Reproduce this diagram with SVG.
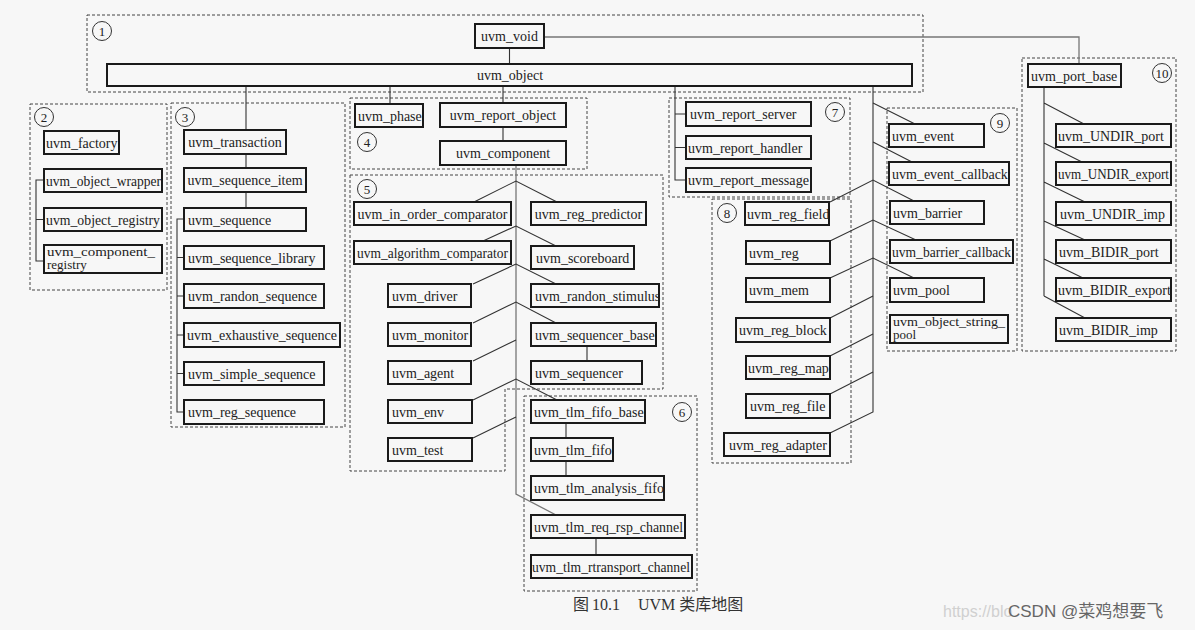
<svg xmlns="http://www.w3.org/2000/svg" width="1195" height="630" viewBox="0 0 1195 630">
<style>
.b{fill:#f7f7f7;stroke:#1a1a1a;stroke-width:2}
.t{font-family:"Liberation Serif","Times New Roman",serif;font-size:14px;fill:#222}
.t2{font-family:"Liberation Serif","Times New Roman",serif;font-size:13px;fill:#222}
.m{text-anchor:middle}
.d{fill:none;stroke:#444;stroke-width:1;stroke-dasharray:3 2}
.c{fill:none;stroke:#333;stroke-width:1.1}
.g{fill:none;stroke:#777;stroke-width:1.3}
.n{fill:none;stroke:#333;stroke-width:1}
.nt{font-family:"Liberation Serif",serif;font-size:13px;fill:#222;text-anchor:middle}
</style>
<rect width="1195" height="630" fill="#f7f7f7"/>
<g id="regions">
<rect class="d" x="87" y="15" width="836" height="77"/>
<rect class="d" x="30" y="104" width="137" height="186"/>
<rect class="d" x="171" y="103" width="174" height="324"/>
<rect class="d" x="350" y="98" width="237" height="71"/>
<polygon class="d" points="350,175 663,175 663,389 505,389 505,471 350,471"/>
<rect class="d" x="524" y="396" width="173" height="195"/>
<rect class="d" x="669" y="98" width="181" height="99"/>
<rect class="d" x="712" y="199" width="139" height="264"/>
<rect class="d" x="887" y="108" width="130" height="243"/>
<rect class="d" x="1022" y="58" width="154" height="293"/>
</g>
<g id="region-labels">
<circle class="n" cx="102" cy="31" r="9.5"/><text class="nt" x="102" y="35.5">1</text>
<circle class="n" cx="44" cy="117" r="9.5"/><text class="nt" x="44" y="121.5">2</text>
<circle class="n" cx="185" cy="117" r="9.5"/><text class="nt" x="185" y="121.5">3</text>
<circle class="n" cx="367" cy="142" r="9.5"/><text class="nt" x="367" y="146.5">4</text>
<circle class="n" cx="367" cy="189" r="9.5"/><text class="nt" x="367" y="193.5">5</text>
<circle class="n" cx="682" cy="412" r="9.5"/><text class="nt" x="682" y="416.5">6</text>
<circle class="n" cx="835" cy="112" r="9.5"/><text class="nt" x="835" y="116.5">7</text>
<circle class="n" cx="727" cy="213" r="9.5"/><text class="nt" x="727" y="217.5">8</text>
<circle class="n" cx="1000" cy="123" r="9.5"/><text class="nt" x="1000" y="127.5">9</text>
<circle class="n" cx="1162" cy="73" r="9.5"/><text class="nt" x="1162" y="77.5">10</text>
</g>
<g id="connectors">
<path class="c" d="M509.5,48V64"/>
<path class="g" d="M544,37H1079V64"/>
<path class="c" d="M246,86V130M246,154V168M246,192V208"/>
<path class="c" d="M184,219H177V412H184M177,257.5H184M177,296H184M177,335H184M177,373.5H184"/>
<path class="c" d="M44,180H36V261H44M36,219.5H44"/>
<path class="c" d="M390,86V104M503,86V103M503,127V141"/>
<path class="g" d="M516,165V494L556,515"/>
<path class="c" d="M474,202L516,181L557,202M483,241L516,226L556,246M473,284L516,264L556,284M473,323L516,302L556,323M473,361L516,340M473,400L516,379L557,400M473,438L516,417"/>
<path class="c" d="M587,346V361M566,423V438M566,461V476M596,538V555"/>
<path class="c" d="M675,86V180H686M675,114H686M675,147.5H686"/>
<path class="c" d="M873,86V412L830,433"/>
<path class="c" d="M873,103L915,124M873,142L912,162M830,202L873,180L914,201M830,241L873,220L916,240M830,278L873,258L914,278M830,318L873,296M830,356L873,334M830,394L873,372"/>
<path class="c" d="M1044,87V296M1044,103L1084,124M1044,143L1082,162M1044,182L1085,202M1044,221L1085,240M1044,259L1083,278M1044,296L1085,318"/>
</g>
<g id="uvm_void"><rect class="b" x="475" y="24" width="69" height="24"/><text class="t m" x="509.5" y="41">uvm_void</text></g>
<g id="uvm_object"><rect class="b" x="107" y="64" width="805" height="22"/><text class="t m" x="510" y="80">uvm_object</text></g>
<g id="uvm_port_base"><rect class="b" x="1028" y="64" width="93" height="23"/><text class="t" x="1031" y="80.5">uvm_port_base</text></g>
<g id="uvm_UNDIR_port"><rect class="b" x="1056" y="124" width="115" height="23"/><text class="t" x="1058" y="140.5">uvm_UNDIR_port</text></g>
<g id="uvm_UNDIR_export"><rect class="b" x="1056" y="162" width="115" height="23"/><text class="t" x="1058" y="178.5" textLength="111" lengthAdjust="spacingAndGlyphs">uvm_UNDIR_export</text></g>
<g id="uvm_UNDIR_imp"><rect class="b" x="1056" y="202" width="115" height="23"/><text class="t" x="1060" y="218.5">uvm_UNDIR_imp</text></g>
<g id="uvm_BIDIR_port"><rect class="b" x="1056" y="240" width="115" height="23"/><text class="t" x="1059" y="256.5">uvm_BIDIR_port</text></g>
<g id="uvm_BIDIR_export"><rect class="b" x="1056" y="278" width="115" height="23"/><text class="t" x="1058" y="294.5">uvm_BIDIR_export</text></g>
<g id="uvm_BIDIR_imp"><rect class="b" x="1056" y="318" width="115" height="23"/><text class="t" x="1059" y="334.5">uvm_BIDIR_imp</text></g>
<g id="uvm_factory"><rect class="b" x="44" y="131" width="75" height="23"/><text class="t" x="46" y="147.5">uvm_factory</text></g>
<g id="uvm_object_wrapper"><rect class="b" x="44" y="169" width="118" height="23"/><text class="t" x="46" y="185.5" textLength="115" lengthAdjust="spacingAndGlyphs">uvm_object_wrapper</text></g>
<g id="uvm_object_registry"><rect class="b" x="44" y="208" width="118" height="23"/><text class="t" x="46" y="224.5" textLength="114" lengthAdjust="spacingAndGlyphs">uvm_object_registry</text></g>
<g id="uvm_component_registry"><rect class="b" x="44" y="245" width="118" height="28"/><text class="t2" x="47" y="255.5" textLength="108" lengthAdjust="spacingAndGlyphs">uvm_component_</text><text class="t2" x="47" y="268.5">registry</text></g>
<g id="uvm_transaction"><rect class="b" x="184" y="130" width="102" height="24"/><text class="t m" x="235" y="146.5">uvm_transaction</text></g>
<g id="uvm_sequence_item"><rect class="b" x="184" y="168" width="122" height="24"/><text class="t m" x="245" y="184.5">uvm_sequence_item</text></g>
<g id="uvm_sequence"><rect class="b" x="184" y="208" width="122" height="23"/><text class="t" x="188" y="224.5">uvm_sequence</text></g>
<g id="uvm_sequence_library"><rect class="b" x="184" y="246" width="140" height="23"/><text class="t" x="188" y="262.5">uvm_sequence_library</text></g>
<g id="uvm_randon_sequence"><rect class="b" x="184" y="284" width="140" height="24"/><text class="t" x="188" y="300.5">uvm_randon_sequence</text></g>
<g id="uvm_exhaustive_sequence"><rect class="b" x="184" y="323" width="156" height="24"/><text class="t" x="187" y="339.5" textLength="150" lengthAdjust="spacingAndGlyphs">uvm_exhaustive_sequence</text></g>
<g id="uvm_simple_sequence"><rect class="b" x="184" y="362" width="140" height="23"/><text class="t" x="188" y="378.5">uvm_simple_sequence</text></g>
<g id="uvm_reg_sequence"><rect class="b" x="184" y="400" width="140" height="24"/><text class="t" x="188" y="416.5">uvm_reg_sequence</text></g>
<g id="uvm_phase"><rect class="b" x="355" y="104" width="68" height="23"/><text class="t" x="358" y="120.5">uvm_phase</text></g>
<g id="uvm_report_object"><rect class="b" x="440" y="103" width="126" height="24"/><text class="t m" x="503" y="119.5">uvm_report_object</text></g>
<g id="uvm_component"><rect class="b" x="440" y="141" width="126" height="24"/><text class="t m" x="503" y="157.5">uvm_component</text></g>
<g id="uvm_in_order_comparator"><rect class="b" x="354" y="202" width="157" height="23"/><text class="t m" x="432.5" y="218.5">uvm_in_order_comparator</text></g>
<g id="uvm_reg_predictor"><rect class="b" x="531" y="202" width="115" height="23"/><text class="t m" x="588.5" y="218.5">uvm_reg_predictor</text></g>
<g id="uvm_algorithm_comparator"><rect class="b" x="354" y="241" width="157" height="23"/><text class="t m" x="432.5" y="257.5" textLength="151" lengthAdjust="spacingAndGlyphs">uvm_algorithm_comparator</text></g>
<g id="uvm_scoreboard"><rect class="b" x="531" y="246" width="103" height="23"/><text class="t" x="536" y="262.5">uvm_scoreboard</text></g>
<g id="uvm_driver"><rect class="b" x="388" y="284" width="83" height="23"/><text class="t" x="392" y="300.5">uvm_driver</text></g>
<g id="uvm_randon_stimulus"><rect class="b" x="531" y="284" width="128" height="23"/><text class="t" x="535" y="300.5">uvm_randon_stimulus</text></g>
<g id="uvm_monitor"><rect class="b" x="388" y="323" width="83" height="23"/><text class="t" x="392" y="339.5">uvm_monitor</text></g>
<g id="uvm_sequencer_base"><rect class="b" x="531" y="323" width="125" height="23"/><text class="t" x="535" y="339.5">uvm_sequencer_base</text></g>
<g id="uvm_agent"><rect class="b" x="388" y="361" width="83" height="23"/><text class="t" x="392" y="377.5">uvm_agent</text></g>
<g id="uvm_sequencer"><rect class="b" x="531" y="361" width="111" height="23"/><text class="t" x="535" y="377.5">uvm_sequencer</text></g>
<g id="uvm_env"><rect class="b" x="388" y="400" width="84" height="23"/><text class="t" x="392" y="416.5">uvm_env</text></g>
<g id="uvm_test"><rect class="b" x="388" y="438" width="84" height="23"/><text class="t" x="392" y="454.5">uvm_test</text></g>
<g id="uvm_tlm_fifo_base"><rect class="b" x="531" y="400" width="114" height="23"/><text class="t" x="534" y="416.5">uvm_tlm_fifo_base</text></g>
<g id="uvm_tlm_fifo"><rect class="b" x="531" y="438" width="82" height="23"/><text class="t" x="534" y="454.5">uvm_tlm_fifo</text></g>
<g id="uvm_tlm_analysis_fifo"><rect class="b" x="531" y="476" width="133" height="24"/><text class="t" x="534" y="492.5">uvm_tlm_analysis_fifo</text></g>
<g id="uvm_tlm_req_rsp_channel"><rect class="b" x="531" y="515" width="154" height="23"/><text class="t" x="534" y="531.5" textLength="149" lengthAdjust="spacingAndGlyphs">uvm_tlm_req_rsp_channel</text></g>
<g id="uvm_tlm_rtransport_channel"><rect class="b" x="531" y="555" width="161" height="23"/><text class="t" x="532" y="571.5" textLength="158" lengthAdjust="spacingAndGlyphs">uvm_tlm_rtransport_channel</text></g>
<g id="uvm_report_server"><rect class="b" x="686" y="102" width="125" height="24"/><text class="t" x="690" y="118.5">uvm_report_server</text></g>
<g id="uvm_report_handler"><rect class="b" x="686" y="136" width="125" height="23"/><text class="t" x="688" y="152.5">uvm_report_handler</text></g>
<g id="uvm_report_message"><rect class="b" x="686" y="168" width="125" height="24"/><text class="t" x="688" y="184.5" textLength="121" lengthAdjust="spacingAndGlyphs">uvm_report_message</text></g>
<g id="uvm_reg_field"><rect class="b" x="745" y="202" width="84" height="23"/><text class="t" x="747" y="218.5">uvm_reg_field</text></g>
<g id="uvm_reg"><rect class="b" x="746" y="241" width="84" height="23"/><text class="t" x="749" y="257.5">uvm_reg</text></g>
<g id="uvm_mem"><rect class="b" x="746" y="278" width="84" height="24"/><text class="t" x="749" y="294.5">uvm_mem</text></g>
<g id="uvm_reg_block"><rect class="b" x="736" y="318" width="94" height="24"/><text class="t" x="739" y="334.5">uvm_reg_block</text></g>
<g id="uvm_reg_map"><rect class="b" x="746" y="356" width="84" height="23"/><text class="t" x="748" y="372.5">uvm_reg_map</text></g>
<g id="uvm_reg_file"><rect class="b" x="746" y="394" width="84" height="24"/><text class="t" x="750" y="410.5">uvm_reg_file</text></g>
<g id="uvm_reg_adapter"><rect class="b" x="724" y="433" width="106" height="23"/><text class="t" x="729" y="449.5">uvm_reg_adapter</text></g>
<g id="uvm_event"><rect class="b" x="889" y="124" width="95" height="23"/><text class="t" x="892" y="140.5">uvm_event</text></g>
<g id="uvm_event_callback"><rect class="b" x="889" y="162" width="120" height="23"/><text class="t" x="892" y="178.5">uvm_event_callback</text></g>
<g id="uvm_barrier"><rect class="b" x="890" y="201" width="94" height="23"/><text class="t" x="893" y="217.5">uvm_barrier</text></g>
<g id="uvm_barrier_callback"><rect class="b" x="890" y="240" width="123" height="23"/><text class="t" x="892" y="256.5" textLength="119" lengthAdjust="spacingAndGlyphs">uvm_barrier_callback</text></g>
<g id="uvm_pool"><rect class="b" x="890" y="278" width="94" height="24"/><text class="t" x="893" y="294.5">uvm_pool</text></g>
<g id="uvm_object_string_pool"><rect class="b" x="890" y="315" width="118" height="28"/><text class="t2" x="893" y="326" textLength="112" lengthAdjust="spacingAndGlyphs">uvm_object_string_</text><text class="t2" x="893" y="339">pool</text></g>
<g id="caption">
<text x="573" y="610" style="font-family:'Liberation Serif','Noto Sans CJK SC',serif;font-size:16px;fill:#333">图</text>
<text x="592" y="610" style="font-family:'Liberation Serif',serif;font-size:16px;fill:#333">10.1</text>
<text x="638" y="610" style="font-family:'Liberation Serif','Noto Sans CJK SC',serif;font-size:16px;fill:#333">UVM 类库地图</text>
</g>
<g id="watermark">
<text x="943" y="617" style="font-family:'Liberation Sans',sans-serif;font-size:16px;fill:#d0d0d0">https://blo</text>
<text x="1008" y="617" style="font-family:'Liberation Sans','Noto Sans CJK SC',sans-serif;font-size:17px;fill:#666">CSDN @菜鸡想要飞</text>
</g>
</svg>
